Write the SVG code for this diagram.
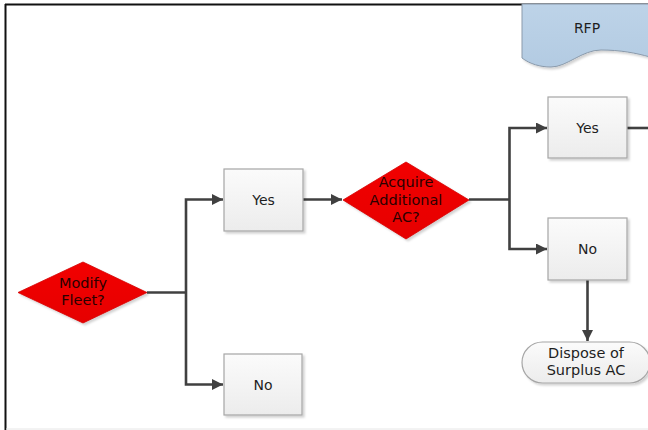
<svg xmlns="http://www.w3.org/2000/svg" width="648" height="430" viewBox="0 0 648 430">
  <defs>
    <linearGradient id="boxFill" x1="0" y1="0" x2="0" y2="1">
      <stop offset="0" stop-color="#fbfbfb"/>
      <stop offset="1" stop-color="#ececec"/>
    </linearGradient>
    <linearGradient id="redFill" x1="0" y1="0" x2="0" y2="1">
      <stop offset="0" stop-color="#f20000"/>
      <stop offset="1" stop-color="#e60000"/>
    </linearGradient>
    <linearGradient id="docFill" x1="0" y1="0" x2="0" y2="1">
      <stop offset="0" stop-color="#bdd3e8"/>
      <stop offset="1" stop-color="#b3cbe2"/>
    </linearGradient>
    <filter id="shadow" x="-10%" y="-10%" width="130%" height="130%">
      <feDropShadow dx="2" dy="2" stdDeviation="1.2" flood-color="#000" flood-opacity="0.18"/>
    </filter>
    <marker id="arrow" viewBox="0 0 10 10" refX="10" refY="5" markerWidth="11" markerHeight="11" markerUnits="userSpaceOnUse" orient="auto-start-reverse">
      <path d="M0,0 L10,5 L0,10 Z" fill="#404040"/>
    </marker>
  </defs>
  <style>
    .box { fill: url(#boxFill); stroke: #a6a6a6; stroke-width: 1.2; filter: url(#shadow); }
    .dia { fill: url(#redFill); stroke: #d40000; stroke-width: 0.8; filter: url(#shadow); }
    .conn { fill: none; stroke: #404040; stroke-width: 2.6; }
    .lbl { font-family: "DejaVu Sans", "Open Sans", sans-serif; font-size: 14px; fill: #1e1e1e; text-anchor: middle; }
    .plbl { font-family: "DejaVu Sans", "Open Sans", sans-serif; font-size: 14.5px; fill: #1e1e1e; text-anchor: middle; }
    .dlbl { font-family: "DejaVu Sans", "Open Sans", sans-serif; font-size: 14.5px; fill: #2a0000; text-anchor: middle; }
  </style>

  <rect width="648" height="430" fill="#ffffff"/>

  <!-- page frame -->
  <g id="frame">
    <line x1="5" y1="4.5" x2="648" y2="4.5" stroke="#111" stroke-width="2"/>
    <line x1="5.5" y1="4" x2="5.5" y2="430" stroke="#111" stroke-width="2"/>
    <line x1="6" y1="429" x2="648" y2="429" stroke="#e6e6e6" stroke-width="1"/>
  </g>

  <!-- connectors -->
  <g id="connectors">
    <line class="conn" x1="147" y1="292.5" x2="186" y2="292.5"/>
    <path class="conn" d="M223,199.5 H186 V384.5 H223" marker-start="url(#arrow)" marker-end="url(#arrow)"/>
    <line class="conn" x1="303" y1="199.5" x2="342" y2="199.5" marker-end="url(#arrow)"/>
    <line class="conn" x1="469" y1="199.5" x2="509.5" y2="199.5"/>
    <path class="conn" d="M547,128 H509.5 V249 H547" marker-start="url(#arrow)" marker-end="url(#arrow)"/>
    <line class="conn" x1="627" y1="128" x2="648" y2="128"/>
    <line class="conn" x1="587.5" y1="280" x2="587.5" y2="341" marker-end="url(#arrow)"/>
  </g>

  <!-- RFP document -->
  <g id="rfp">
    <path d="M522,4 V58 C530,64 540,67 551,67 C567,67 582,50 601,50 C620,50 636,53 650,57 V4 Z" fill="url(#docFill)" stroke="#8a9aab" stroke-width="1" filter="url(#shadow)"/>
    <text class="lbl" x="587" y="33">RFP</text>
  </g>

  <g id="modify-fleet">
    <polygon class="dia" points="18,292.5 83,262 147,292.5 83,323"/>
    <text class="dlbl" x="83" y="288">Modify</text>
    <text class="dlbl" x="83" y="305">Fleet?</text>
  </g>

  <g id="yes-1">
    <rect class="box" x="224" y="169" width="79" height="62"/>
    <text class="lbl" x="263.5" y="205">Yes</text>
  </g>

  <g id="no-1">
    <rect class="box" x="224" y="354" width="78" height="61"/>
    <text class="lbl" x="263" y="390">No</text>
  </g>

  <g id="acquire-ac">
    <polygon class="dia" points="343,200 406,162 469,200 406,239"/>
    <text class="dlbl" x="406" y="187">Acquire</text>
    <text class="dlbl" x="406" y="204.5">Additional</text>
    <text class="dlbl" x="406" y="222">AC?</text>
  </g>

  <g id="yes-2">
    <rect class="box" x="548" y="97" width="79" height="61"/>
    <text class="lbl" x="587.5" y="133">Yes</text>
  </g>

  <g id="no-2">
    <rect class="box" x="548" y="218" width="79" height="62"/>
    <text class="lbl" x="587.5" y="254">No</text>
  </g>

  <g id="dispose-surplus">
    <rect class="box" x="522" y="342" width="128" height="41" rx="20.5" ry="20.5"/>
    <text class="plbl" x="586" y="358">Dispose of</text>
    <text class="plbl" x="586" y="375">Surplus AC</text>
  </g>
</svg>
